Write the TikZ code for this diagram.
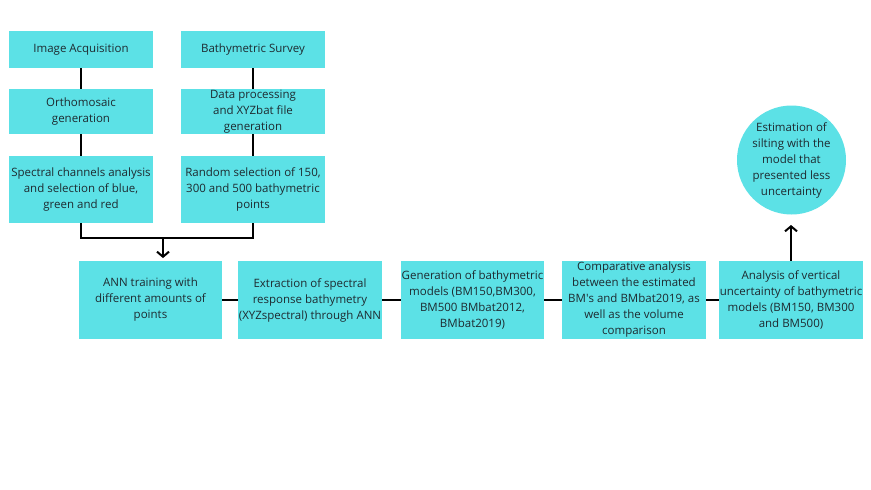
\documentclass[tikz,border=0pt]{standalone}
\usepackage{fontspec}
\setmainfont{Open Sans}
\usetikzlibrary{arrows.meta}
\definecolor{boxcyan}{HTML}{5CE1E6}
\definecolor{txt}{HTML}{1E2A30}
\begin{document}
\begin{tikzpicture}[x=1pt,y=-1pt,
  stepbox/.style={fill=boxcyan,draw=none,align=center,text=txt,inner sep=0pt,
    font=\fontsize{11.5}{16}\selectfont,minimum width=144pt},
  circbox/.style={circle,fill=boxcyan,draw=none,align=center,text=txt,inner sep=0pt,
    font=\fontsize{11.5}{16}\selectfont,minimum size=109pt},
  link/.style={draw=black,line width=2pt},
  arr/.style={link,-{Straight Barb[length=5pt,width=12pt,line width=2pt]}}]
\useasboundingbox[fill=white] (0,0) rectangle (871,490);
% top-left column
\node[stepbox,minimum height=37pt] (ia) at (81,49.5) {Image Acquisition};
\node[stepbox,minimum height=45pt] (om) at (81,111.5) {Orthomosaic\\generation};
\node[stepbox,minimum height=67pt] (sc) at (81,189.5) {Spectral channels analysis\\and selection of blue,\\green and red};
% top-right column
\node[stepbox,minimum height=37pt] (bs) at (253,49.5) {Bathymetric Survey};
\node[stepbox,minimum height=45pt] (dp) at (253,111.5) {Data processing\\and XYZbat file\\generation};
\node[stepbox,minimum height=67pt] (rs) at (253,189.5) {Random selection of 150,\\300 and 500 bathymetric\\points};
% bottom row
\node[stepbox,minimum height=78pt,minimum width=143pt] (ann) at (150.5,300) {ANN training with\\different amounts of\\points};
\node[stepbox,minimum height=78pt] (ext) at (310,300) {Extraction of spectral\\response bathymetry\\(XYZspectral) through ANN};
\node[stepbox,minimum height=78pt,minimum width=143pt] (gen) at (472.5,300) {Generation of bathymetric\\models (BM150,BM300,\\BM500 BMbat2012,\\BMbat2019)};
\node[stepbox,minimum height=78pt] (cmp) at (634,300) {Comparative analysis\\between the estimated\\BM\textquotesingle s and BMbat2019, as\\well as the volume\\comparison};
\node[stepbox,minimum height=78pt] (ana) at (791,300) {Analysis of vertical\\uncertainty of bathymetric\\models (BM150, BM300\\and BM500)};
\node[circbox] (est) at (791.5,160) {Estimation of\\silting with the\\model that\\presented less\\uncertainty};
% connectors
\draw[link] (ia) -- (om);
\draw[link] (om) -- (sc);
\draw[link] (bs) -- (dp);
\draw[link] (dp) -- (rs);
\coordinate (jl) at (81,238);
\coordinate (jr) at (253,238);
\coordinate (jm) at (163,238);
\draw[link] (sc.south) -- (jl) -- (jr) -- (rs.south);
\draw[arr] (jm) -- (163,258);
\draw[link] (ann) -- (ext);
\draw[link] (ext) -- (gen);
\draw[link] (gen) -- (cmp);
\draw[link] (cmp) -- (ana);
\coordinate (tip) at (791,225);
\draw[arr] (ana.north) -- (tip);
\end{tikzpicture}
\end{document}
